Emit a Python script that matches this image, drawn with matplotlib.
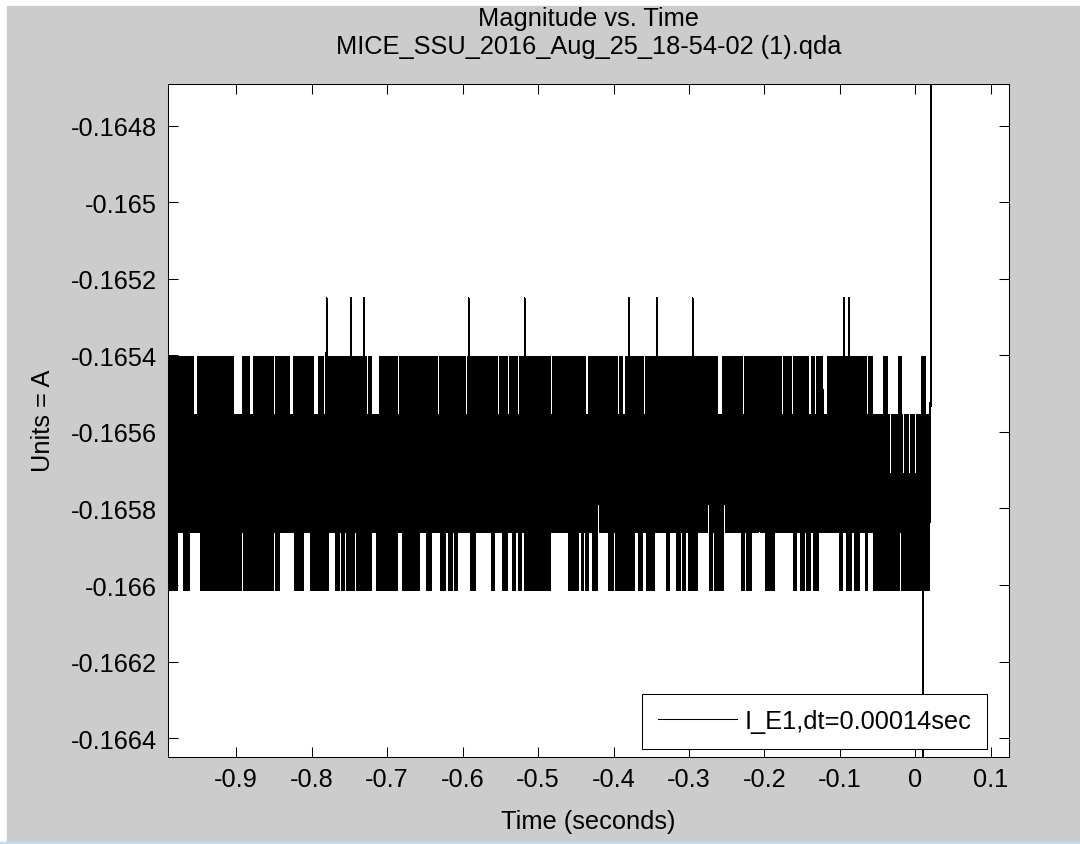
import numpy as np
import matplotlib
matplotlib.use('Agg')
import matplotlib.pyplot as plt
from matplotlib.patches import Rectangle

plt.rcParams['font.family'] = ['Liberation Sans', 'DejaVu Sans']

# sample spacing of the record (from the legend) and time span of the trace
dt = 0.00014
t_first = -0.9901
t_band_end = 0.0178
t_last = 0.1232

# quantised current levels the trace sits on (A)
lvl_spike = -0.165251
lvl_top = -0.165404
lvl_hi = -0.165556
lvl_mid = -0.165709
lvl_half = -0.165788
lvl_lo = -0.165861
lvl_bottom = -0.166014

# stretches (s) where the trace reaches up to lvl_top
upper_runs = [
    (-0.989, -0.977), (-0.975, -0.964), (-0.961, -0.957), (-0.950, -0.936),
    (-0.934, -0.930), (-0.929, -0.925), (-0.923, -0.915), (-0.912, -0.904),
    (-0.891, -0.883), (-0.876, -0.851), (-0.847, -0.842), (-0.839, -0.837),
    (-0.835, -0.830), (-0.823, -0.798), (-0.790, -0.785), (-0.779, -0.772),
    (-0.770, -0.764), (-0.761, -0.749), (-0.746, -0.733), (-0.730, -0.728),
    (-0.724, -0.721), (-0.709, -0.703), (-0.701, -0.697), (-0.695, -0.687),
    (-0.683, -0.671), (-0.668, -0.665), (-0.663, -0.658), (-0.655, -0.650),
    (-0.647, -0.634), (-0.630, -0.628), (-0.626, -0.623), (-0.621, -0.597),
    (-0.593, -0.589), (-0.586, -0.584), (-0.582, -0.579), (-0.577, -0.573),
    (-0.570, -0.554), (-0.550, -0.541), (-0.537, -0.528), (-0.524, -0.484),
    (-0.480, -0.476), (-0.474, -0.438), (-0.432, -0.430), (-0.427, -0.395),
    (-0.391, -0.389), (-0.383, -0.377), (-0.374, -0.361), (-0.357, -0.337),
    (-0.334, -0.308), (-0.305, -0.303), (-0.300, -0.276), (-0.274, -0.268),
    (-0.266, -0.263), (-0.255, -0.243), (-0.240, -0.230), (-0.226, -0.178),
    (-0.174, -0.170), (-0.168, -0.165), (-0.161, -0.142), (-0.137, -0.134),
    (-0.130, -0.123), (-0.116, -0.101), (-0.099, -0.075), (-0.072, -0.066),
    (-0.062, -0.058), (-0.042, -0.038), (-0.022, -0.019), (0.009, 0.013),
]

# stretches (s) where the trace reaches down to lvl_bottom
lower_runs = [
    (-0.989, -0.978), (-0.969, -0.962), (-0.946, -0.944), (-0.942, -0.937),
    (-0.936, -0.926), (-0.924, -0.921), (-0.919, -0.913), (-0.911, -0.905),
    (-0.903, -0.893), (-0.889, -0.883), (-0.880, -0.876), (-0.874, -0.867),
    (-0.864, -0.858), (-0.856, -0.851), (-0.847, -0.843), (-0.822, -0.811),
    (-0.801, -0.799), (-0.797, -0.791), (-0.789, -0.785), (-0.783, -0.778),
    (-0.768, -0.764), (-0.760, -0.757), (-0.753, -0.750), (-0.748, -0.744),
    (-0.740, -0.736), (-0.733, -0.729), (-0.726, -0.721), (-0.713, -0.710),
    (-0.708, -0.703), (-0.700, -0.687), (-0.679, -0.671), (-0.668, -0.665),
    (-0.663, -0.658), (-0.647, -0.642), (-0.628, -0.623), (-0.618, -0.614),
    (-0.610, -0.607), (-0.589, -0.583), (-0.561, -0.558), (-0.546, -0.541),
    (-0.533, -0.530), (-0.525, -0.523), (-0.517, -0.515), (-0.512, -0.509),
    (-0.507, -0.501), (-0.499, -0.497), (-0.495, -0.491), (-0.489, -0.484),
    (-0.459, -0.452), (-0.450, -0.447), (-0.442, -0.440), (-0.436, -0.434),
    (-0.427, -0.422), (-0.406, -0.399), (-0.397, -0.390), (-0.387, -0.382),
    (-0.379, -0.372), (-0.366, -0.362), (-0.356, -0.352), (-0.349, -0.346),
    (-0.329, -0.326), (-0.316, -0.312), (-0.308, -0.305), (-0.300, -0.295),
    (-0.292, -0.289), (-0.274, -0.270), (-0.266, -0.262), (-0.259, -0.254),
    (-0.230, -0.226), (-0.223, -0.218), (-0.198, -0.195), (-0.194, -0.187),
    (-0.161, -0.158), (-0.152, -0.148), (-0.144, -0.140), (-0.134, -0.129),
    (-0.100, -0.097), (-0.091, -0.085), (-0.080, -0.075), (-0.066, -0.064),
    (-0.055, -0.022), (-0.018, 0.018),
]

# single-sample spikes up to lvl_spike
spike_times = [-0.7799, -0.7477, -0.7305, -0.5918, -0.5176,
               -0.3795, -0.3428, -0.2951, -0.0943, -0.0881]

# short stretches where the low side only gets to lvl_mid / lvl_half
mid_gaps = [(-0.4325, -0.4295), (-0.2895, -0.2865), (-0.2275, -0.2245),
            (-0.2085, -0.2055)]
half_gaps = [(-0.4215, -0.4185), (-0.4005, -0.3975), (-0.2755, -0.2725),
             (-0.2545, -0.2515)]

# near the end the high side sometimes only reaches lvl_mid
drop_stripes = [(-0.035, -0.031), (-0.018, -0.014), (-0.010, -0.006),
                (-0.002, 0.002), (0.005, 0.007)]

# excursions that leave the plotted range at the end of the record
dip_t, dip_v = 0.0094, -0.1672
tail_t = [0.0201, 0.0201, t_last]
tail_v = [-0.16548, -0.1640, -0.1640]

y_ticks = [-0.1664, -0.1662, -0.166, -0.1658, -0.1656, -0.1654,
           -0.1652, -0.165, -0.1648]
y_labels = ['-0.1664', '-0.1662', '-0.166', '-0.1658', '-0.1656', '-0.1654',
            '-0.1652', '-0.165', '-0.1648']
x_ticks = [-0.9, -0.8, -0.7, -0.6, -0.5, -0.4, -0.3, -0.2, -0.1, 0, 0.1]
x_labels = ['-0.9', '-0.8', '-0.7', '-0.6', '-0.5', '-0.4', '-0.3', '-0.2',
            '-0.1', '0', '0.1']

# build the sampled trace
t = np.arange(t_first, t_band_end, dt)
hi = np.full(t.size, lvl_hi)
lo = np.full(t.size, lvl_lo)
for a, b in upper_runs:
    hi[(t >= a) & (t <= b)] = lvl_top
for a, b in drop_stripes:
    hi[(t >= a) & (t <= b)] = lvl_mid
for a, b in lower_runs:
    lo[(t >= a) & (t <= b)] = lvl_bottom
for a, b in mid_gaps:
    lo[(t >= a) & (t <= b)] = lvl_mid
for a, b in half_gaps:
    lo[(t >= a) & (t <= b)] = lvl_half
y = np.where(np.arange(t.size) % 2 == 0, hi, lo)
for ts in spike_times:
    k = int(np.argmin(np.abs(t - ts)))
    k -= k % 2
    y[k] = lvl_spike
# straight drop out of range and back at the same instant
k = int(np.argmin(np.abs(t - dip_t)))
t = np.insert(t, k + 1, [t[k], t[k]])
y = np.insert(y, k + 1, [dip_v, y[k]])
t = np.concatenate([t, tail_t])
y = np.concatenate([y, tail_v])

fs = 18.3
fig = plt.figure(figsize=(10.8, 8.45), dpi=100, facecolor='white')
fig.patches.append(Rectangle((7 / 1080, 2 / 845), 1, 836 / 845,
                             transform=fig.transFigure, color='#cccccc', zorder=-2))
fig.patches.append(Rectangle((0, 0), 1, 2 / 845, transform=fig.transFigure,
                             color='#c3dbf0', zorder=-2))

ax = fig.add_axes([168 / 1080, 1 - 757.5 / 845, 840.5 / 1080, 672.5 / 845])
ax.plot(t, y, color='black', lw=0.75, antialiased=False,
        label='I_E1,dt=0.00014sec')

ax.set_xlim(t_first, t_last)
ax.set_ylim(-0.166448, -0.164691)
ax.set_xticks(x_ticks)
ax.set_xticklabels(x_labels)
ax.set_yticks(y_ticks)
ax.set_yticklabels(y_labels)
ax.tick_params(direction='in', length=7, width=0.75, top=True, right=True,
               labelsize=fs, colors='black')
ax.tick_params(axis='x', pad=7.5)
ax.tick_params(axis='y', pad=8)
for s in ax.spines.values():
    s.set_linewidth(0.75)

ax.set_xlabel('Time (seconds)', fontsize=fs, labelpad=13)
ax.set_ylabel('Units = A', fontsize=fs)
ax.yaxis.set_label_coords(-0.134, 0.5)
ax.set_title('Magnitude vs. Time\nMICE_SSU_2016_Aug_25_18-54-02 (1).qda',
             fontsize=fs, linespacing=1.18, pad=22.5)

leg = ax.legend(loc='lower right', bbox_to_anchor=(0.9744, 0.011),
                borderaxespad=0, fontsize=fs, fancybox=False, framealpha=1,
                edgecolor='black', handlelength=3.1, handletextpad=0.3,
                borderpad=0.62)
leg.get_frame().set_linewidth(0.75)

fig.savefig('out.png', dpi=100)
